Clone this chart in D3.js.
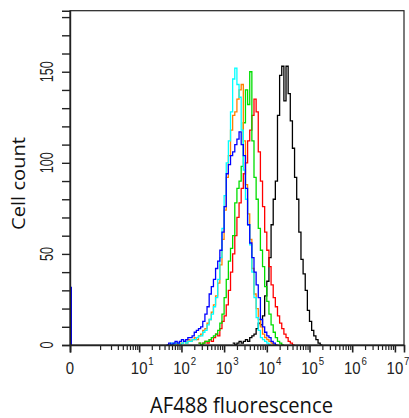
<!DOCTYPE html>
<html>
<head>
<script src="https://d3js.org/d3.v7.min.js"></script>
<style>
  body { margin: 0; background: #fff; }
</style>
</head>
<body>
<div id="chart"></div>
<script>
var binWidth = 0.05;

var blackStart = 3.20;
var blackCounts = [1, 0, 1, 2, 1, 2, 3, 2, 4, 5, 6, 9, 12, 11, 16, 27, 35, 48, 66, 80,
  90, 126, 148, 153, 134, 153, 138, 123, 108, 92, 80, 62, 47, 39, 30, 19, 13, 8, 5, 3, 1, 0];

var redStart = 2.40;
var redCounts = [1, 0, 1, 2, 1, 3, 2, 4, 6, 5, 9, 13, 16, 22, 30, 40, 50, 60, 70, 78,
  86, 94, 100, 112, 118, 126, 135, 128, 106, 90, 76, 62, 52, 43, 33, 26, 21, 16, 12, 9,
  6, 4, 2, 1, 0];

var greenStart = 2.40;
var greenCounts = [1, 0, 1, 2, 2, 3, 4, 5, 6, 8, 12, 17, 26, 36, 46, 53, 60, 78, 86, 90,
  98, 122, 140, 132, 150, 112, 92, 80, 64, 52, 43, 32, 24, 17, 11, 7, 4, 2, 1, 0];

var orangeStart = 1.80;
var orangeCounts = [0, 1, 0, 1, 1, 2, 1, 3, 2, 3, 4, 3, 5, 6, 8, 9, 12, 14, 18, 22,
  27, 34, 44, 58, 74, 92, 104, 118, 126, 128, 135, 140, 143, 112, 88, 72, 58, 42, 28, 20,
  14, 10, 6, 4, 3, 2, 1, 0];

var cyanStart = 1.70;
var cyanCounts = [0, 1, 0, 1, 1, 0, 1, 2, 1, 2, 2, 3, 3, 4, 5, 5, 7, 8, 11, 14,
  17, 21, 26, 36, 48, 64, 82, 100, 112, 128, 146, 152, 143, 136, 118, 96, 80, 66, 55, 40,
  26, 15, 8, 4, 3, 2, 1, 0];

var blueStart = 1.65;
var blueCounts = [0, 1, 0, 1, 2, 1, 2, 3, 2, 3, 4, 4, 5, 7, 8, 9, 10, 13, 17, 21,
  28, 32, 36, 42, 46, 52, 62, 76, 94, 99, 104, 106, 110, 113, 117, 110, 104, 86, 66, 56,
  48, 40, 33, 26, 14, 10, 7, 5, 4, 2, 1, 0];
var blueAtZero = 32;

var yTicks = d3.range(0, 181, 10);
var yLabels = [0, 50, 100, 150];
var xExponents = [1, 2, 3, 4, 5, 6, 7];
var xMultiples = [2, 3, 4, 5, 6, 7, 8, 9];

var width = 409, height = 418;
var plotLeft = 70, plotRight = 404, plotTop = 10.7, plotBottom = 345;

var svg = d3.select("#chart").append("svg")
    .attr("width", width)
    .attr("height", height);

// biexponential-like axis: 0 at the left edge, log decades after
var x = d3.scaleSymlog().constant(0.246).domain([0, 1.633e7]).range([plotLeft, plotRight]);
var y = d3.scaleLinear().domain([0, 183.5]).range([plotBottom, plotTop]);

var series = [
  {color: "#000000", start: blackStart, counts: blackCounts},
  {color: "#ff0000", start: redStart, counts: redCounts},
  {color: "#00dd00", start: greenStart, counts: greenCounts},
  {color: "#ff8000", start: orangeStart, counts: orangeCounts},
  {color: "#00ffff", start: cyanStart, counts: cyanCounts},
  {color: "#0000ff", start: blueStart, counts: blueCounts}
];

svg.append("clipPath").attr("id", "plot")
  .append("rect")
    .attr("x", plotLeft).attr("y", plotTop)
    .attr("width", plotRight - plotLeft).attr("height", plotBottom - plotTop);

var line = d3.line()
    .curve(d3.curveStepAfter)
    .x(function(d) { return x(Math.pow(10, d[0])); })
    .y(function(d) { return y(d[1]); });

function steps(start, counts) {
  var pts = counts.map(function(c, i) { return [start + i * binWidth, c]; });
  pts.push([start + counts.length * binWidth, counts[counts.length - 1]]);
  return pts;
}

var plot = svg.append("g").attr("clip-path", "url(#plot)");

plot.selectAll("path.hist")
  .data(series)
  .enter()
  .append("path")
    .attr("class", "hist")
    .attr("d", function(d) { return line(steps(d.start, d.counts)); })
    .attr("fill", "none")
    .attr("stroke", function(d) { return d.color; })
    .attr("stroke-width", 1.3);

// blue events piled up at zero
plot.append("line")
    .attr("x1", x(0) + 1).attr("x2", x(0) + 1)
    .attr("y1", y(0)).attr("y2", y(blueAtZero))
    .attr("stroke", "#0000ff")
    .attr("stroke-width", 2);

// frame
svg.append("rect")
    .attr("x", plotLeft).attr("y", plotTop)
    .attr("width", plotRight - plotLeft).attr("height", plotBottom - plotTop)
    .attr("fill", "none")
    .attr("stroke", "#222")
    .attr("stroke-width", 1.2);

// y axis
var yAxis = svg.append("g")
    .attr("transform", "translate(" + plotLeft + ",0)")
    .call(d3.axisLeft(y).tickValues(yTicks).tickSize(8).tickFormat(""));
yAxis.selectAll("path, line").attr("stroke", "#222").attr("stroke-width", 1.4);

svg.selectAll("text.ylab")
  .data(yLabels)
  .enter()
  .append("text")
    .attr("class", "ylab")
    .attr("transform", function(d) { return "translate(53," + y(d) + ") rotate(-90) scale(0.7,1)"; })
    .attr("text-anchor", "middle")
    .attr("font-family", "Liberation Sans, Arial, sans-serif")
    .attr("font-size", 18)
    .attr("fill", "#222")
    .text(function(d) { return d; });

// x axis: minor ticks for 1..9 x 10^k, longer ones at 0 and the decades
var minorTicks = [1];
[0, 1, 2, 3, 4, 5, 6].forEach(function(k) {
  xMultiples.forEach(function(m) { minorTicks.push(m * Math.pow(10, k)); });
});
var majorTicks = [0].concat(xExponents.map(function(e) { return Math.pow(10, e); }));

var xMinor = svg.append("g")
    .attr("transform", "translate(0," + plotBottom + ")")
    .call(d3.axisBottom(x).tickValues(minorTicks).tickSize(5).tickFormat(""));
var xMajor = svg.append("g")
    .attr("transform", "translate(0," + plotBottom + ")")
    .call(d3.axisBottom(x).tickValues(majorTicks).tickSize(7.5).tickFormat(""));
xMinor.selectAll("path, line").attr("stroke", "#222").attr("stroke-width", 1.2);
xMajor.selectAll("path, line").attr("stroke", "#222").attr("stroke-width", 1.6);

var xl = svg.append("g")
    .attr("font-family", "Liberation Sans, Arial, sans-serif")
    .attr("fill", "#222");

xl.append("text")
    .attr("transform", "translate(" + x(0) + ",374) scale(0.88,1)")
    .attr("text-anchor", "middle")
    .attr("font-size", 17)
    .text("0");

xExponents.forEach(function(e) {
  var t = xl.append("text")
      .attr("transform", "translate(" + x(Math.pow(10, e)) + ",374) scale(0.88,1)")
      .attr("x", -9.45)
      .attr("font-size", 17);
  t.append("tspan").text("10");
  t.append("tspan").attr("font-size", 11).attr("dx", 1).attr("dy", -9).text(e);
});

// axis titles
svg.append("text")
    .attr("x", 241.5)
    .attr("y", 412.5)
    .attr("text-anchor", "middle")
    .attr("font-family", "Open Sans, Noto Sans, sans-serif")
    .attr("font-size", 21)
    .attr("textLength", 183)
    .attr("lengthAdjust", "spacingAndGlyphs")
    .attr("fill", "#111")
    .text("AF488 fluorescence");

svg.append("text")
    .attr("transform", "translate(25,183.5) rotate(-90)")
    .attr("text-anchor", "middle")
    .attr("font-family", "Open Sans, Noto Sans, sans-serif")
    .attr("font-size", 18)
    .attr("textLength", 93)
    .attr("lengthAdjust", "spacingAndGlyphs")
    .attr("fill", "#111")
    .text("Cell count");
</script>
</body>
</html>
